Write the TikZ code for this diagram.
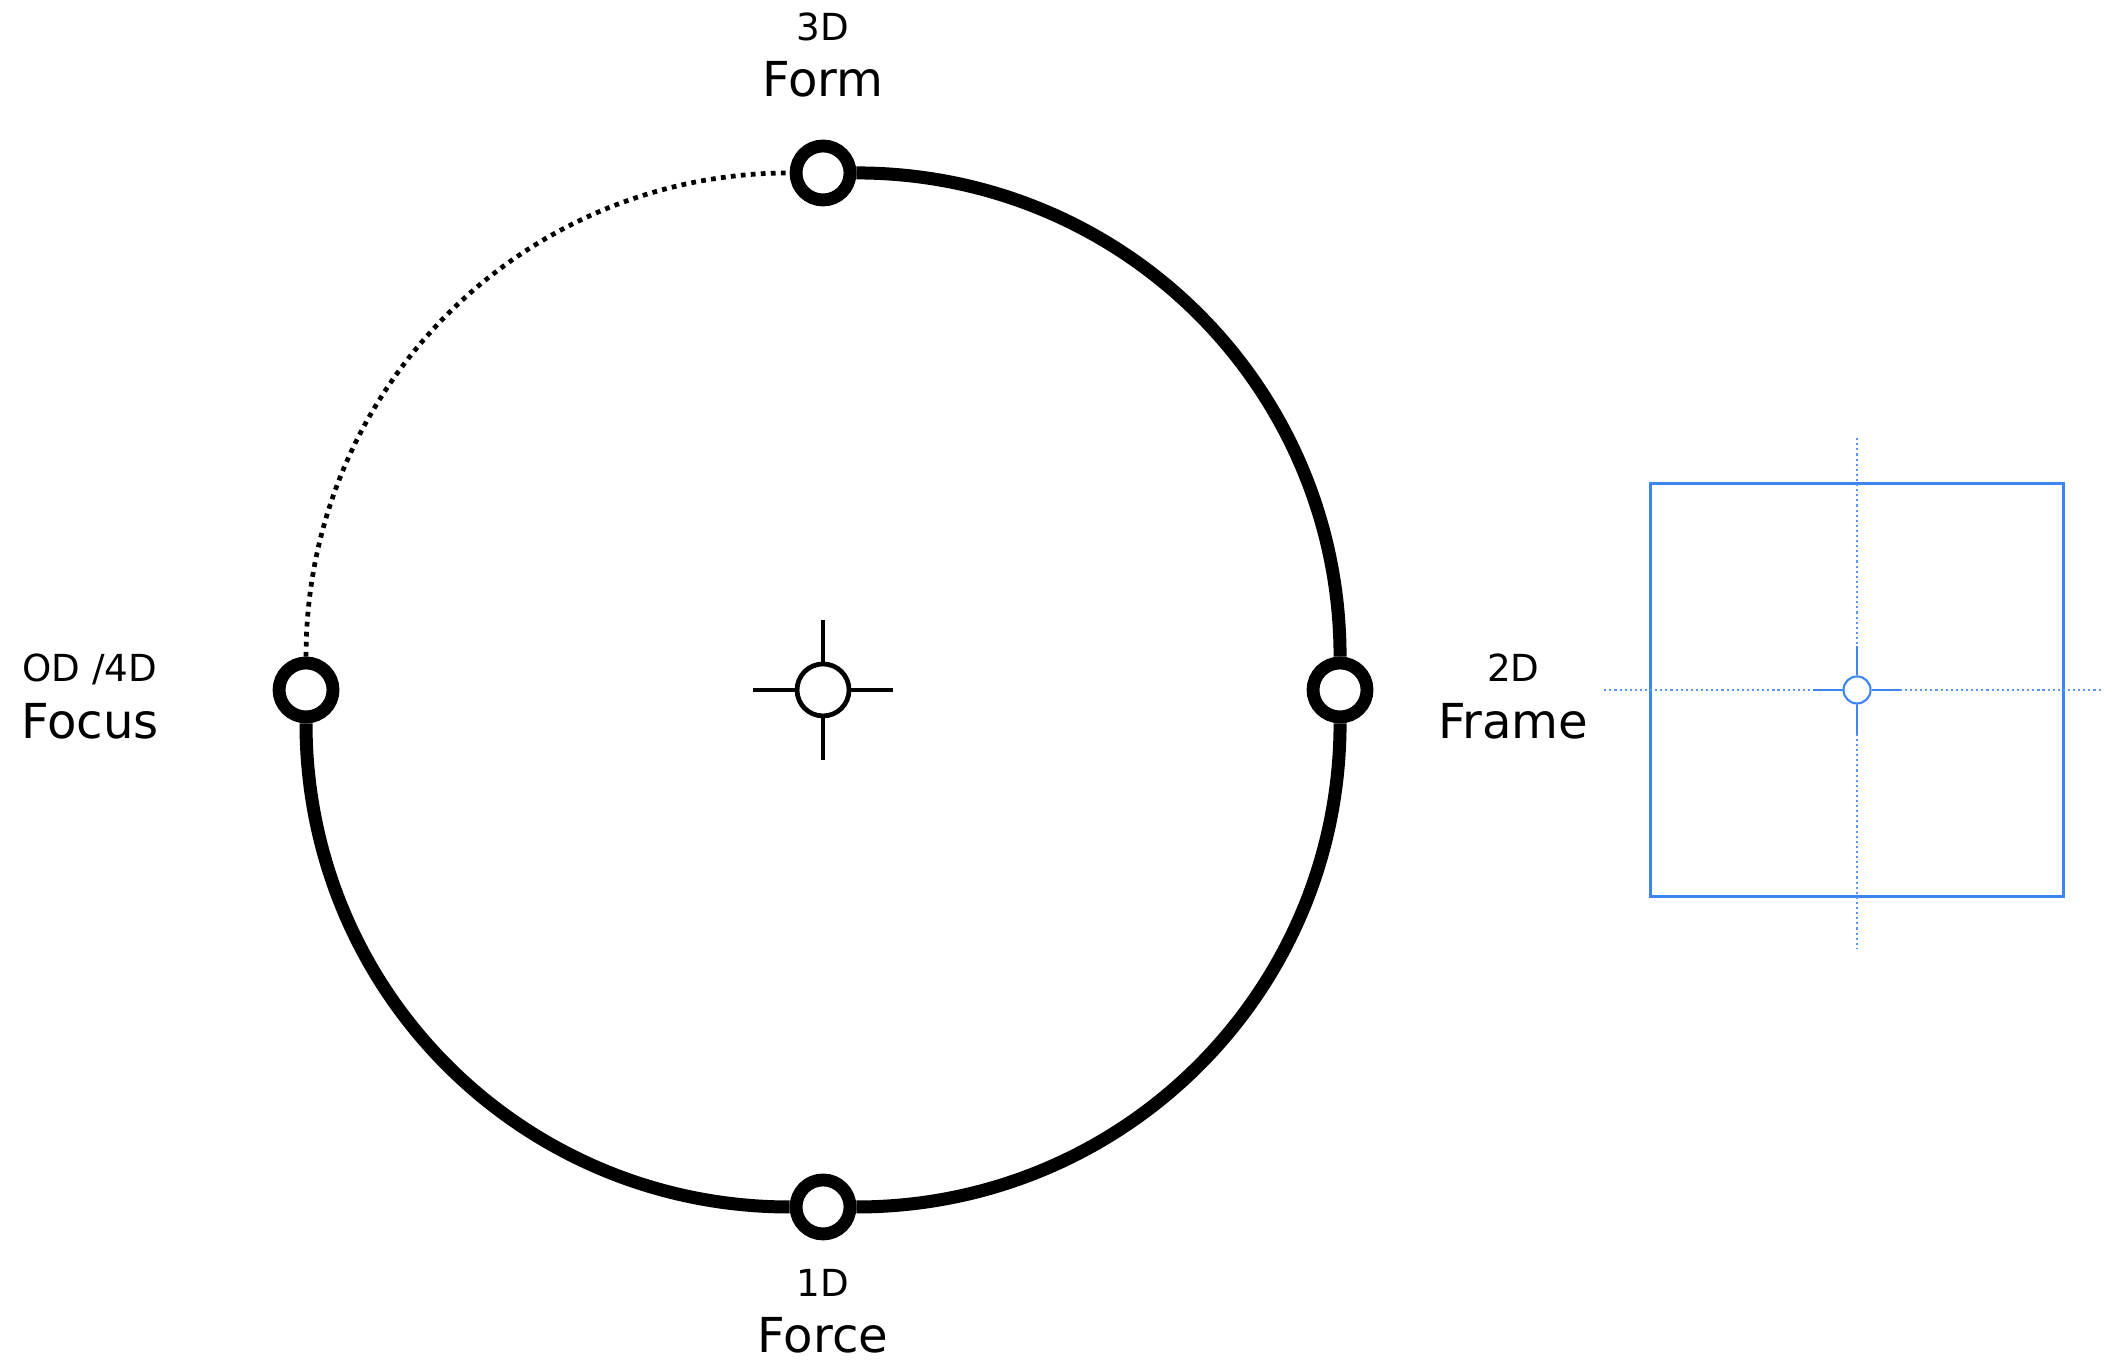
\documentclass[tikz,border=0pt]{standalone}
\usepackage{fontspec}
\setmainfont{DejaVu Sans}
\usetikzlibrary{positioning}

\begin{document}
\begin{tikzpicture}[
        scale=5.17,
    ring/.style={circle,draw,fill=white,line width=3.65pt,minimum size=0.54cm,inner sep=0pt},
    big/.style={font=\fontsize{13.7}{16}\selectfont,anchor=base,inner sep=0pt},
    small/.style={font=\fontsize{10.6}{12}\selectfont,anchor=base,inner sep=0pt},
    bldot/.style={blx!85,line width=0.45pt,dash pattern=on 0.6pt off 0.85pt}
]
\definecolor{blx}{RGB}{62,133,244}

    \useasboundingbox (-1.592,-1.3095) rectangle (2.5164,1.3346);

    \node[ring] (t) at (0,1) {};
    \node[ring] (r) at (1,0) {};
    \node[ring] (b) at (0,-1) {};
    \node[ring] (l) at (-1,0) {};

    \draw [line width=3.7pt] (t)
        to [out=0,in=90] (r)
        to [out=-90,in=0] (b)
        to [out=180,in=-90] (l)
    ;
    \draw [line width=1.35pt,dash pattern=on 1.35pt off 1.5pt] (l)
        to [out=90,in=180] (t)
    ;

    \node[circle,draw,line width=1.35pt,minimum size=0.52cm,inner sep=0pt] (c) at (0,0) {};
    \foreach \a in {0,90,180,270}
        \draw [line width=1.35pt] (c.\a) -- ++(\a:0.08);

    \node[small] (d3) at (0,1.257) {3D};
    \node[big] (form) at (0,1.147) {Form};
    \node[small] (d2) at (1.335,0.0155) {2D};
    \node[big] (frame) at (1.335,-0.093) {Frame};
    \node[small] (d1) at (0,-1.174) {1D};
    \node[big] (force) at (0,-1.282) {Force};
    \node[small] (d0) at (-1.418,0.0155) {OD /4D};
    \node[big] (focus) at (-1.418,-0.093) {Focus};

    \node[draw=blx,line width=0.6pt,minimum size=4.13cm,inner sep=0pt] (fr) at (2,0) {};
    \draw [bldot] (2,0.487) -- (2,-0.499);
    \draw [bldot] (1.511,0) -- (2.476,0);
    \node[circle,draw=blx,fill=white,line width=0.6pt,minimum size=0.27cm,inner sep=0pt] (fc) at (2,0) {};
    \foreach \a in {0,90,180,270}
        \draw [blx,line width=0.6pt] (fc.\a) -- ++(\a:0.057);
  \end{tikzpicture}
\end{document}
